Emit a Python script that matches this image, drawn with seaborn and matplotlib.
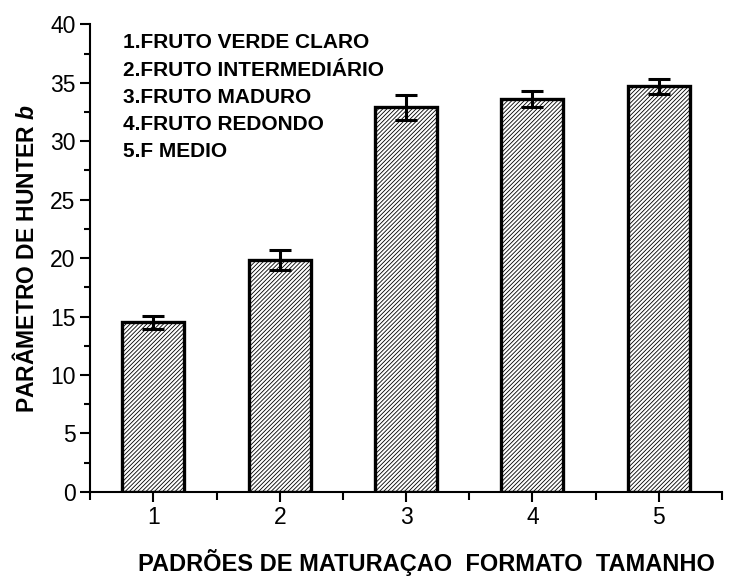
import seaborn as sns
import pandas as pd
import matplotlib.pyplot as plt
from matplotlib.ticker import MultipleLocator, FixedLocator

# Data
categories = ['1', '2', '3', '4', '5']
values = [14.5, 19.8, 32.9, 33.6, 34.7]
errors = [0.55, 0.85, 1.05, 0.65, 0.65]
legend_lines = ['1.FRUTO VERDE CLARO', '2.FRUTO INTERMEDIÁRIO', '3.FRUTO MADURO',
                '4.FRUTO REDONDO', '5.F MEDIO']

df = pd.DataFrame({'padrao': categories, 'b': values})

sns.set_style('ticks', {'text.color': 'black', 'axes.labelcolor': 'black',
                        'xtick.color': 'black', 'ytick.color': 'black',
                        'axes.edgecolor': 'black'})
plt.rcParams['font.family'] = ['Liberation Sans', 'DejaVu Sans']
plt.rcParams['mathtext.fontset'] = 'custom'
plt.rcParams['mathtext.it'] = 'Liberation Sans:italic:bold'
plt.rcParams['hatch.linewidth'] = 0.6

fig = plt.figure(figsize=(7.39, 5.78), dpi=100)
ax = fig.add_axes([0.122, 0.149, 0.855, 0.809])

sns.barplot(data=df, x='padrao', y='b', order=categories, color='white',
            width=0.49, edgecolor='black', linewidth=2.4, hatch='////////',
            errorbar=None, ax=ax)
ax.errorbar(range(len(values)), values, yerr=errors, fmt='none', ecolor='black',
            elinewidth=2.2, capsize=8, capthick=2.2)

ax.set_xlim(-0.5, 4.5)
ax.set_ylim(0, 40)
ax.yaxis.set_major_locator(MultipleLocator(5))
ax.yaxis.set_minor_locator(MultipleLocator(2.5))
ax.xaxis.set_minor_locator(FixedLocator([-0.5, 0.5, 1.5, 2.5, 3.5, 4.5]))

sns.despine(ax=ax)
for s in ['left', 'bottom']:
    ax.spines[s].set_linewidth(1.5)
ax.tick_params(axis='both', which='major', direction='out', length=7, width=1.5,
               labelsize=16.5)
ax.tick_params(axis='y', which='minor', direction='out', length=4, width=1.5)
ax.tick_params(axis='x', which='minor', direction='out', length=6, width=1.5)

ax.set_xlabel('PADRÕES DE MATURAÇAO  FORMATO  TAMANHO', fontsize=17,
              fontweight='bold')
ax.xaxis.set_label_coords(0.532, -0.122)
ax.set_ylabel('PARÂMETRO DE HUNTER $b$', fontsize=16.5, fontweight='bold', labelpad=8)

for i, line in enumerate(legend_lines):
    ax.text(0.052, 0.96 - i * 0.058, line, transform=ax.transAxes, fontsize=15,
            fontweight='bold', va='center', ha='left')

fig.savefig('out.png', dpi=100)
